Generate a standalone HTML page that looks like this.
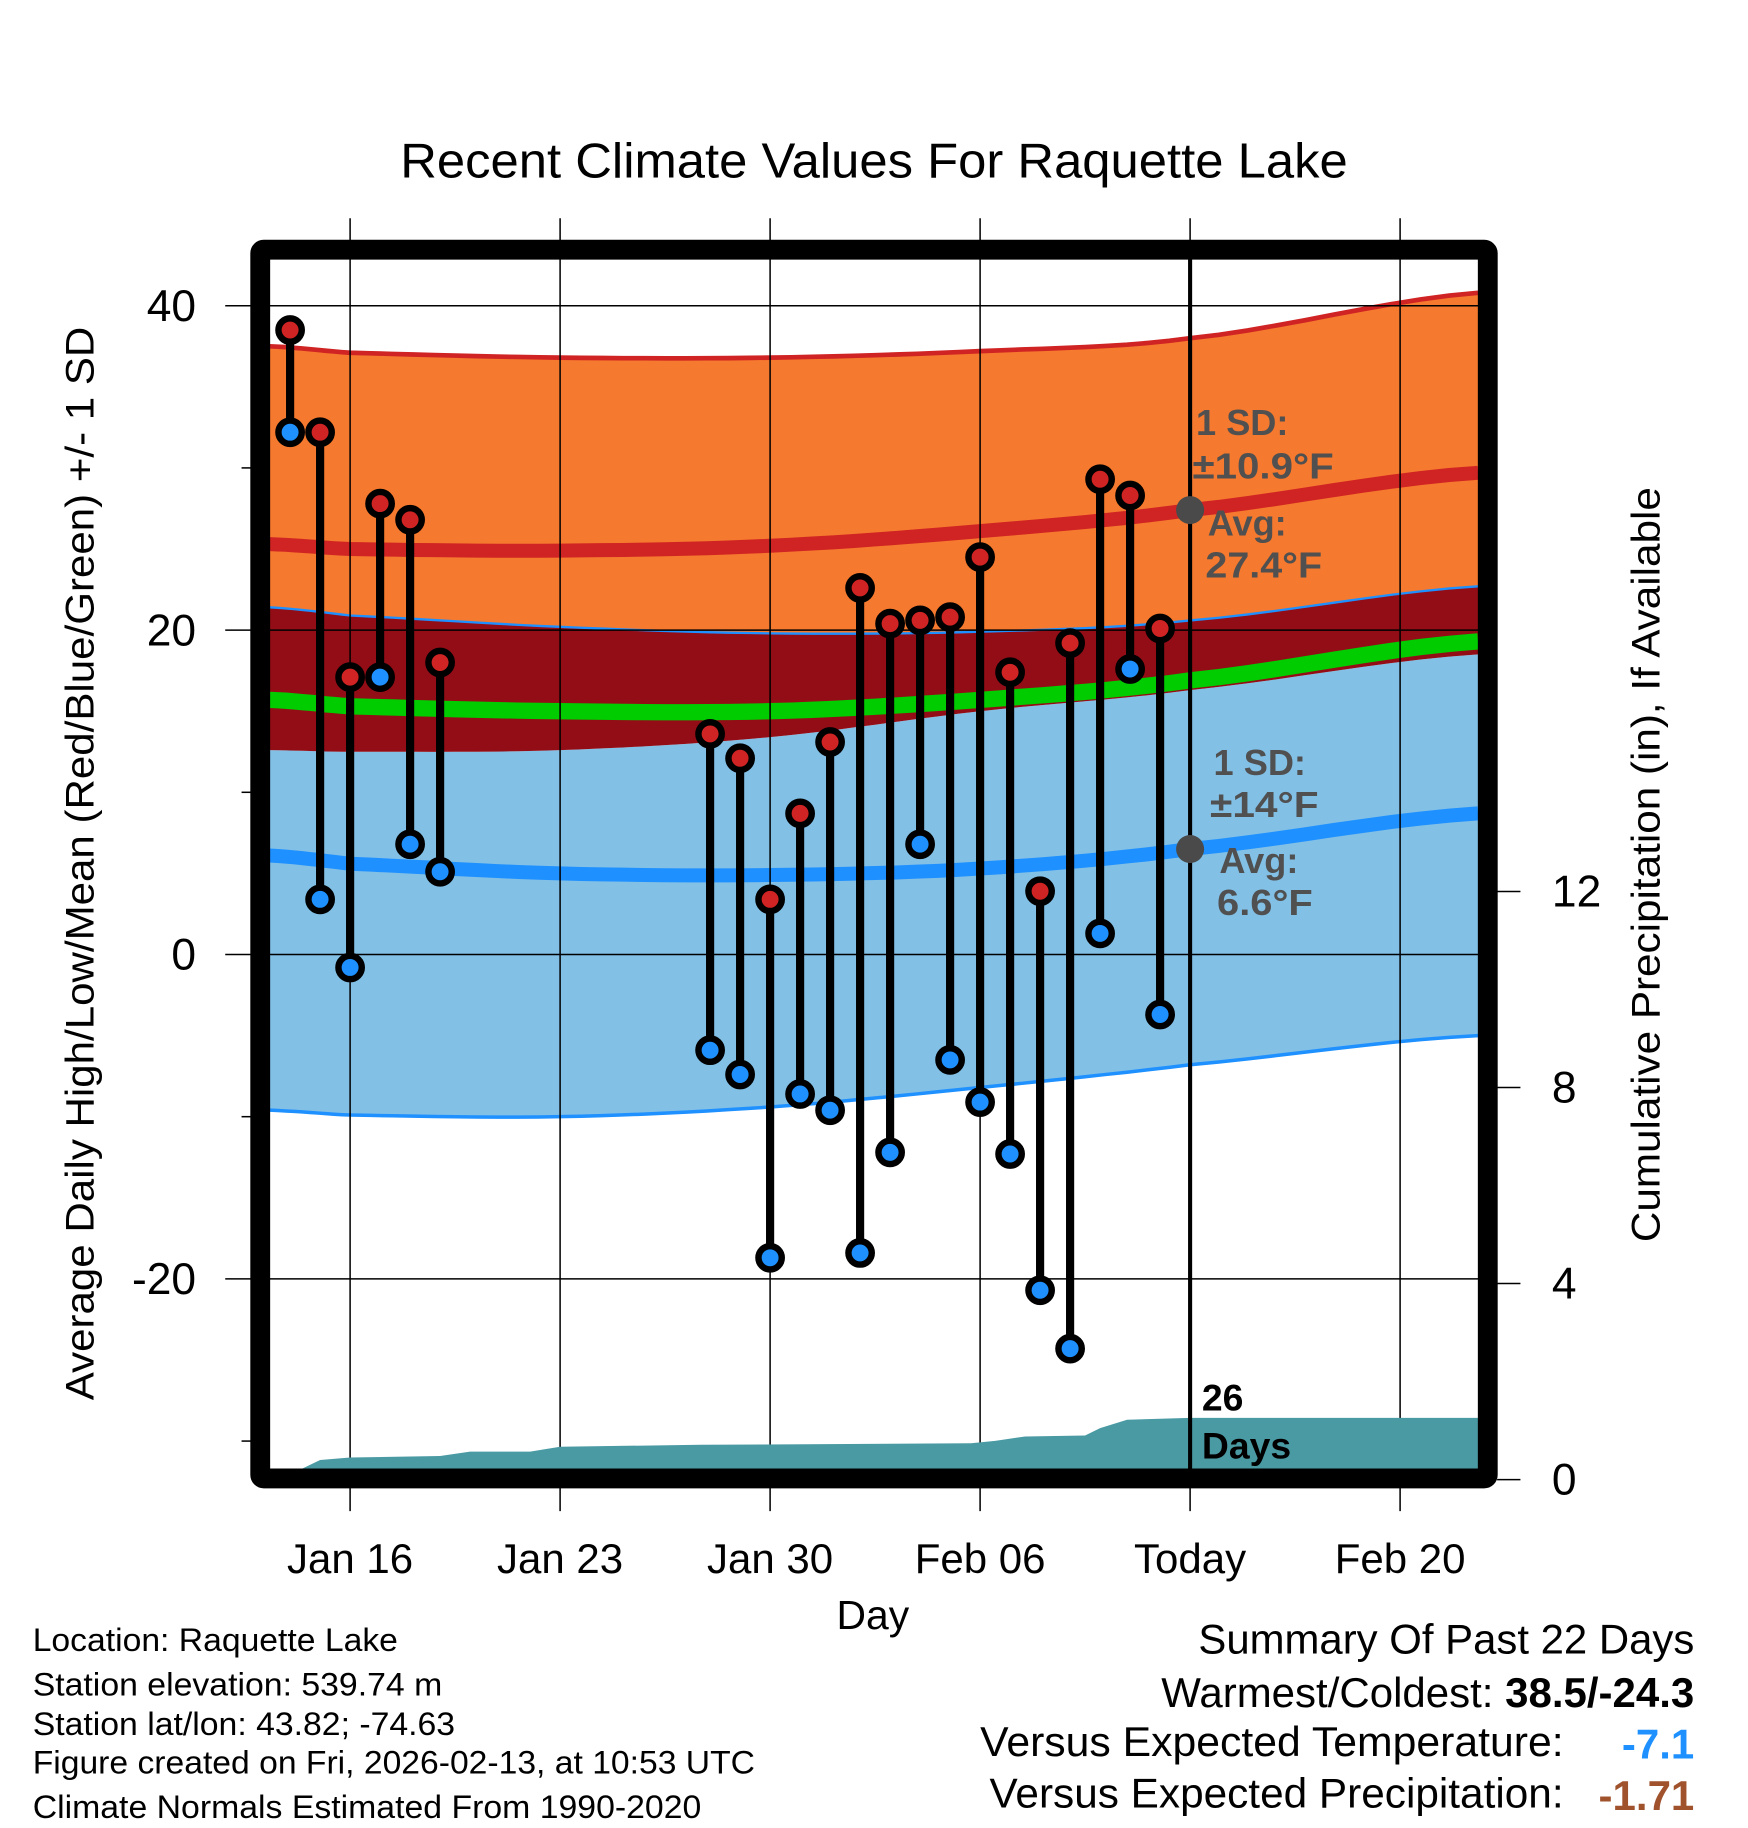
<!DOCTYPE html>
<html><head><meta charset="utf-8"><style>
html,body{margin:0;padding:0;background:#fff}
svg{display:block;font-family:"Liberation Sans",sans-serif}
</style></head><body>
<svg id="chart" width="1748" height="1828" viewBox="0 0 1498 1566.6" xmlns="http://www.w3.org/2000/svg">
<g id="bands"></g>
<g id="grid"></g>
<g id="precip"></g>
<g id="marks"></g>
<g id="frame"></g>
<g id="texts">
<text x="343" y="152" font-size="42" textLength="812" lengthAdjust="spacingAndGlyphs">Recent Climate Values For Raquette Lake</text>
<text transform="translate(80,740) rotate(-90)" font-size="34" text-anchor="middle" textLength="920" lengthAdjust="spacingAndGlyphs">Average Daily High/Low/Mean (Red/Blue/Green) +/- 1 SD</text>
<text transform="translate(1422,741) rotate(-90)" font-size="34" text-anchor="middle" textLength="647" lengthAdjust="spacingAndGlyphs">Cumulative Precipitation (in), If Available</text>
<text x="748" y="1396" font-size="35" text-anchor="middle">Day</text>
<g fill="#505050" font-weight="bold" font-size="31">
<text x="1025" y="373">1 SD:</text><text x="1022" y="410" textLength="121" lengthAdjust="spacingAndGlyphs">±10.9°F</text>
<text x="1035" y="459">Avg:</text><text x="1033" y="495" textLength="100" lengthAdjust="spacingAndGlyphs">27.4°F</text></g>
<g fill="#505050" font-weight="bold" font-size="31">
<text x="1040" y="664">1 SD:</text><text x="1037" y="700" textLength="93" lengthAdjust="spacingAndGlyphs">±14°F</text>
<text x="1045" y="748">Avg:</text><text x="1043" y="784" textLength="82" lengthAdjust="spacingAndGlyphs">6.6°F</text></g>
<text x="1030" y="1209" font-size="32" font-weight="bold">26</text>
<text x="1030" y="1250" font-size="32" font-weight="bold">Days</text>
<g font-size="28">
<text x="28" y="1415" textLength="313" lengthAdjust="spacingAndGlyphs">Location: Raquette Lake</text>
<text x="28" y="1453" textLength="351" lengthAdjust="spacingAndGlyphs">Station elevation: 539.74 m</text>
<text x="28" y="1487" textLength="362" lengthAdjust="spacingAndGlyphs">Station lat/lon: 43.82; -74.63</text>
<text x="28" y="1520" textLength="619" lengthAdjust="spacingAndGlyphs">Figure created on Fri, 2026-02-13, at 10:53 UTC</text>
<text x="28" y="1558" textLength="573" lengthAdjust="spacingAndGlyphs">Climate Normals Estimated From 1990-2020</text></g>
<g font-size="36">
<text x="1027" y="1417" textLength="425" lengthAdjust="spacingAndGlyphs">Summary Of Past 22 Days</text>
<text x="1452" y="1463" text-anchor="end">Warmest/Coldest: <tspan font-weight="bold">38.5/-24.3</tspan></text>
<text x="840" y="1505" textLength="500" lengthAdjust="spacingAndGlyphs">Versus Expected Temperature:</text>
<text x="1452" y="1507" text-anchor="end" fill="#1e90ff" font-weight="bold">-7.1</text>
<text x="848" y="1549" textLength="492" lengthAdjust="spacingAndGlyphs">Versus Expected Precipitation:</text>
<text x="1452" y="1551" text-anchor="end" fill="#a0522d" font-weight="bold">-1.71</text></g>
</g>
</svg>
<script>
// days offset from Jan 14
const hiDays = [0,1,2,3,4,5,14,15,16,17,18,19,20,21,22,23,24,25,26,27,28,29];
const highs = [38.5,32.2,17.1,27.8,26.8,18.0,13.6,12.1,3.4,8.7,13.1,22.6,20.4,20.6,20.8,24.5,17.4,3.9,19.2,29.3,28.3,20.1];
const lows = [32.2,3.4,-0.8,17.1,6.8,5.1,-5.9,-7.4,-18.7,-8.6,-9.6,-18.4,-12.2,6.8,-6.5,-9.1,-12.3,-20.7,-24.3,1.3,17.6,-3.7];
const normDays = [-0.68,2,9,16,23,30,39.6];
const hiPlus = [37.5,37.1,36.8,36.8,37.2,38.0,40.8];
const hiMean = [25.3,25.0,24.9,25.2,26.1,27.4,29.7];
const hiMinus = [21.4,20.9,20.2,19.8,19.9,20.6,22.7];
const meanLine = [15.7,15.3,15.0,15.0,15.7,16.9,19.3];
const blueTop = [12.6,12.5,12.6,13.4,15.0,16.3,18.5];
const loMean = [6.1,5.6,5.0,4.9,5.3,6.5,8.7];
const loMinus = [-9.6,-9.9,-10.0,-9.4,-8.2,-6.8,-5.0];
const precipDays = [0.37,1.0,2.0,5.0,6.0,8.0,9.0,13.7,22.7,23.5,24.5,26.5,27.0,27.9,30.0,39.6];
const precipIn = [0,0.40,0.45,0.48,0.57,0.57,0.67,0.71,0.74,0.79,0.88,0.90,1.05,1.22,1.26,1.26];
const xTickDays = [2,9,16,23,30,37];
const xTickLabels = ["Jan 16","Jan 23","Jan 30","Feb 06","Today","Feb 20"];
const yTicks = [40,20,0,-20];
const yMinor = [30,10,-10,-30];
const y2Ticks = [0,4,8,12];
const todayDay = 30;

const X0=248.6, DX=25.71, Y0=818, DY=13.9, P0=1268, DP=42;
const L=231,R=1267,T=222,B=1259;
const xs=d=>X0+DX*d, ys=v=>Y0-DY*v, yp=v=>P0-DP*v;
const NS="http://www.w3.org/2000/svg";
function mk(tag,attrs,parent){const e=document.createElementNS(NS,tag);for(const k in attrs)e.setAttribute(k,attrs[k]);parent.appendChild(e);return e;}
function clampX(d){return Math.min(R,Math.max(L,xs(d)));}
// smooth (Catmull-Rom) sampling between given normal points
function smooth(arr){
  const out=[];const n=normDays.length;
  for(let i=0;i<n-1;i++){
    const p0=arr[Math.max(0,i-1)],p1=arr[i],p2=arr[i+1],p3=arr[Math.min(n-1,i+2)];
    const d0=normDays[Math.max(0,i-1)],d1=normDays[i],d2=normDays[i+1],d3=normDays[Math.min(n-1,i+2)];
    for(let k=0;k<10;k++){const t=k/10;
      const v=0.5*((2*p1)+(-p0+p2)*t+(2*p0-5*p1+4*p2-p3)*t*t+(-p0+3*p1-3*p2+p3)*t*t*t);
      const d=d1+(d2-d1)*t;
      out.push(clampX(d).toFixed(1)+","+ys(v).toFixed(1));}
  }
  out.push(clampX(normDays[n-1]).toFixed(1)+","+ys(arr[n-1]).toFixed(1));
  return out;
}
function band(top,bot,fill,name){
  const p=smooth(top).concat(smooth(bot).reverse());
  const e=mk("polygon",{points:p.join(" "),fill:fill},document.getElementById("bands"));
  
  
}
function line(arr,color,w,name){
  const e=mk("polyline",{points:smooth(arr).join(" "),fill:"none",stroke:color,"stroke-width":w},document.getElementById("bands"));
  
  
}
band(blueTop,loMinus,"#82c0e6","low-sd-band");
band(hiMinus,blueTop,"#930d16","overlap-band");
band(hiPlus,hiMinus,"#f5792e","high-sd-band");
line(meanLine,"#00cc00",14,"mean-line");
line(hiMean,"#d02323",12,"high-mean-line");
line(loMean,"#1e90ff",12,"low-mean-line");
line(hiPlus,"#d02323",4,"high-plus-sd-line");
line(hiMinus,"#1e90ff",2,"high-minus-sd-line");
line(loMinus,"#1e90ff",3,"low-minus-sd-line");

const g=document.getElementById("grid");
xTickDays.forEach((d,i)=>{
  const x=xs(d);
  const l=mk("line",{x1:x,x2:x,y1:187,y2:1295,stroke:"#000","stroke-width":1.3},g);
  
  
  const t=mk("text",{x:x,y:1348,"font-size":36,"text-anchor":"middle"},document.getElementById("texts"));
  t.textContent=xTickLabels[i];
  
  
});
yTicks.forEach(v=>{
  const y=ys(v);
  const l=mk("line",{x1:193,x2:R,y1:y,y2:y,stroke:"#000","stroke-width":1.3},g);
  
  
  const t=mk("text",{x:168,y:y+13,"font-size":38,"text-anchor":"end"},document.getElementById("texts"));
  t.textContent=v;
  
  
});
yMinor.forEach(v=>{
  const l=mk("line",{x1:207,x2:216,y1:ys(v),y2:ys(v),stroke:"#000","stroke-width":1.3},g);
  
  
});
y2Ticks.forEach(v=>{
  const y=yp(v);
  const l=mk("line",{x1:1283,x2:1303,y1:y,y2:y,stroke:"#000","stroke-width":1.3},g);
  
  
  const t=mk("text",{x:1330,y:y+13,"font-size":38},document.getElementById("texts"));
  t.textContent=v;
  
  
});

const pg=document.getElementById("precip");
let pp=[xs(precipDays[0])+","+B];
precipDays.forEach((d,i)=>pp.push(clampX(d)+","+Math.min(B,yp(precipIn[i]))));
pp.push(R+","+B);
const pa=mk("polygon",{points:pp.join(" "),fill:"#4a9aa3"},pg);



const mg=document.getElementById("marks");
const tl=mk("line",{x1:xs(todayDay),x2:xs(todayDay),y1:T,y2:B,stroke:"#000","stroke-width":3.5},mg);


const d1=mk("circle",{cx:xs(todayDay),cy:ys(hiMean[5]),r:12,fill:"#4a4a4a"},mg);


const d2=mk("circle",{cx:xs(todayDay),cy:ys(loMean[5]),r:12,fill:"#4a4a4a"},mg);


hiDays.forEach((d,i)=>{
  const x=xs(d);
  const s=mk("line",{x1:x,x2:x,y1:ys(highs[i]),y2:ys(lows[i]),stroke:"#000","stroke-width":7},mg);
  
  
});
hiDays.forEach((d,i)=>{
  const x=xs(d);
  const lo=mk("circle",{cx:x,cy:ys(lows[i]),r:10,fill:"#1e90ff",stroke:"#000","stroke-width":5.5},mg);
  
  
  const hi=mk("circle",{cx:x,cy:ys(highs[i]),r:10,fill:"#d02323",stroke:"#000","stroke-width":5.5},mg);
  
  
});

const fr=mk("rect",{x:223,y:214,width:1052,height:1053,fill:"none",stroke:"#000","stroke-width":17,rx:3},document.getElementById("frame"));


</script>
</body></html>
